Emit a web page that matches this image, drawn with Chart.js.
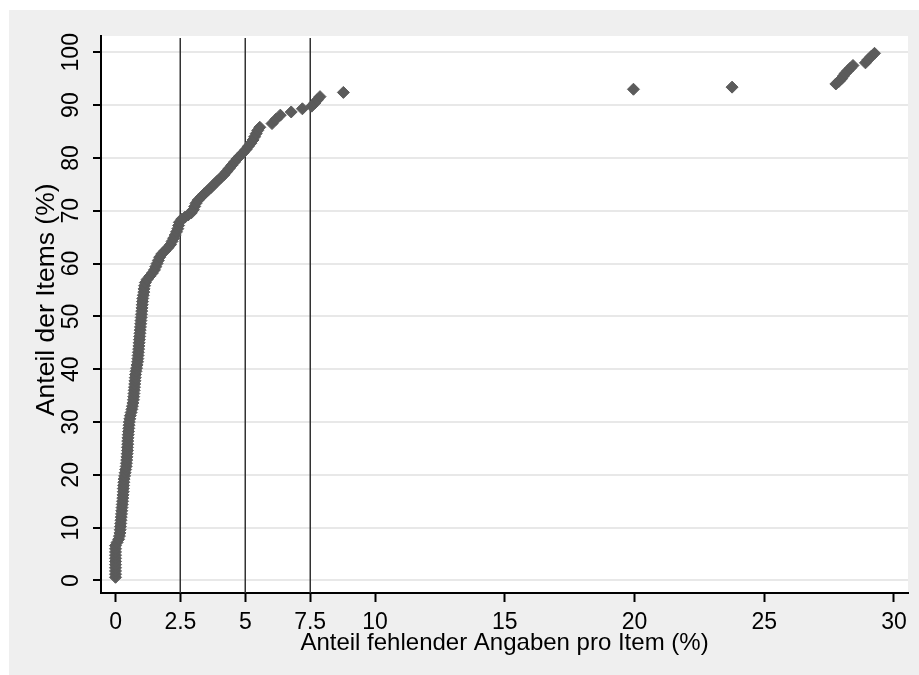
<!DOCTYPE html>
<html>
<head>
<meta charset="utf-8">
<script src="https://cdn.jsdelivr.net/npm/chart.js@4.4.1/dist/chart.umd.min.js"></script>
<style>
  html, body { margin: 0; padding: 0; background: #fff; }
  #wrap { position: relative; width: 919px; height: 675px; }
</style>
</head>
<body>
<div id="wrap"><canvas id="chart" width="919" height="675"></canvas></div>
<script>
// Anteil fehlender Angaben pro Item (%) -- x
const missingPct = [
  0, 0, 0, 0, 0, 0, 0, 0, 0, 0, 0,
  0.06, 0.12, 0.15, 0.17, 0.18, 0.19, 0.20, 0.21, 0.22, 0.23,
  0.24, 0.25, 0.26, 0.27, 0.28, 0.29, 0.30, 0.30, 0.31, 0.32,
  0.33, 0.35, 0.37, 0.39, 0.41, 0.42, 0.43, 0.44, 0.45, 0.46,
  0.46, 0.47, 0.47, 0.48, 0.49, 0.50, 0.51, 0.52, 0.53, 0.55,
  0.57, 0.60, 0.63, 0.65, 0.67, 0.69, 0.70, 0.71, 0.72, 0.73,
  0.74, 0.75, 0.76, 0.77, 0.79, 0.81, 0.83, 0.85, 0.86, 0.87,
  0.88, 0.89, 0.90, 0.91, 0.92, 0.93, 0.94, 0.95, 0.96, 0.97,
  0.98, 0.99, 1.00, 1.01, 1.02, 1.03, 1.04, 1.05, 1.07, 1.09,
  1.10, 1.12, 1.15, 1.22, 1.32, 1.42, 1.50, 1.55, 1.60, 1.65,
  1.70, 1.78, 1.90, 2.02, 2.12, 2.18, 2.24, 2.30, 2.35, 2.40,
  2.43, 2.46, 2.55, 2.68, 2.80, 2.92, 3.00, 3.05, 3.10, 3.18,
  3.30, 3.42, 3.55, 3.68, 3.80, 3.92, 4.05, 4.18, 4.28, 4.38,
  4.48, 4.58, 4.68, 4.80, 4.92, 5.03, 5.12, 5.22, 5.30, 5.36,
  5.42, 5.48, 5.56, 6.03, 6.18, 6.35, 6.77, 7.20, 7.56, 7.68,
  7.78, 7.88, 8.78, 19.96, 23.76, 27.76, 27.88, 27.98, 28.05, 28.12,
  28.22, 28.32, 28.42, 28.90, 29.00, 29.12, 29.25
];
// Anteil der Items (%) -- y
const itemsPct = [
  0.6, 1.2, 1.8, 2.4, 3.0, 3.6, 4.2, 4.8, 5.4, 6.0, 6.6,
  7.2, 7.8, 8.4, 9.0, 9.6, 10.2, 10.8, 11.4, 12.0, 12.6,
  13.2, 13.8, 14.4, 15.0, 15.6, 16.2, 16.8, 17.4, 18.0, 18.6,
  19.2, 19.8, 20.4, 21.0, 21.6, 22.2, 22.8, 23.4, 24.0, 24.6,
  25.2, 25.8, 26.4, 27.0, 27.6, 28.2, 28.8, 29.4, 30.0, 30.6,
  31.2, 31.8, 32.4, 33.0, 33.6, 34.2, 34.8, 35.4, 36.0, 36.6,
  37.2, 37.8, 38.4, 39.0, 39.6, 40.2, 40.8, 41.4, 42.0, 42.6,
  43.2, 43.8, 44.4, 45.0, 45.6, 46.2, 46.8, 47.4, 48.0, 48.6,
  49.2, 49.8, 50.4, 51.0, 51.6, 52.2, 52.8, 53.4, 54.0, 54.6,
  55.2, 55.8, 56.4, 57.0, 57.6, 58.2, 58.8, 59.4, 60.0, 60.6,
  61.2, 61.8, 62.4, 63.0, 63.6, 64.2, 64.8, 65.4, 66.0, 66.6,
  67.2, 67.8, 68.4, 68.8, 69.2, 69.6, 70.2, 70.8, 71.4, 72.0,
  72.6, 73.2, 73.8, 74.4, 75.0, 75.6, 76.2, 76.8, 77.4, 78.0,
  78.6, 79.2, 79.8, 80.4, 81.0, 81.6, 82.2, 82.8, 83.4, 84.0,
  84.6, 85.2, 85.8, 86.5, 87.3, 88.1, 88.7, 89.3, 89.8, 90.4,
  91.0, 91.6, 92.4, 93.0, 93.4, 94.0, 94.5, 95.0, 95.5, 96.0,
  96.5, 97.0, 97.5, 98.0, 98.6, 99.2, 99.8
];
const refLines = [2.5, 5, 7.5];
const xTicks = [0, 2.5, 5, 7.5, 10, 15, 20, 25, 30];
const yTicks = [0, 10, 20, 30, 40, 50, 60, 70, 80, 90, 100];

const font = "'Liberation Sans', Arial, Helvetica, sans-serif";

// grauer Rahmen + weisse Plotflaeche
const bgPlugin = {
  id: 'bg',
  beforeDraw(chart) {
    const { ctx, chartArea: a } = chart;
    ctx.save();
    ctx.fillStyle = '#ffffff';
    ctx.fillRect(0, 0, chart.width, chart.height);
    ctx.fillStyle = '#efefef';
    ctx.fillRect(9, 10, chart.width - 9, chart.height - 10);
    ctx.fillStyle = '#ffffff';
    ctx.fillRect(a.left, a.top, a.right - a.left, a.bottom - a.top);
    ctx.restore();
  }
};

// senkrechte Linien bei 2.5, 5, 7.5
const xlinePlugin = {
  id: 'xlines',
  beforeDatasetsDraw(chart) {
    const { ctx, chartArea: a, scales: { x } } = chart;
    ctx.save();
    ctx.strokeStyle = '#333333';
    ctx.lineWidth = 1.5;
    refLines.forEach(v => {
      const px = Math.round(x.getPixelForValue(v)) + 0.25;
      ctx.beginPath();
      ctx.moveTo(px, a.top + 2);
      ctx.lineTo(px, a.bottom);
      ctx.stroke();
    });
    ctx.restore();
  }
};

const points = missingPct.map((v, i) => ({ x: v, y: itemsPct[i] }));

new Chart(document.getElementById('chart'), {
  type: 'scatter',
  data: {
    datasets: [{
      data: points,
      pointStyle: 'rectRot',
      pointRadius: 6,
      backgroundColor: '#5b5b5b',
      borderColor: '#5b5b5b',
      borderWidth: 1
    }]
  },
  options: {
    responsive: false,
    animation: false,
    devicePixelRatio: 1,
    layout: { padding: { left: 0, top: 36, right: 11, bottom: 0 } },
    plugins: {
      legend: { display: false },
      tooltip: { enabled: false }
    },
    scales: {
      x: {
        type: 'linear',
        min: -0.56,
        max: 30.54,
        afterBuildTicks: s => { s.ticks = xTicks.map(v => ({ value: v })); },
        afterFit: s => { s.height = 82; },
        ticks: {
          font: { family: font, size: 23 },
          color: '#000',
          padding: 7,
          maxRotation: 0,
          callback: v => String(v)
        },
        grid: {
          drawOnChartArea: false,
          drawTicks: true,
          tickLength: 9,
          tickColor: '#000',
          tickWidth: 2
        },
        border: { color: '#000', width: 2 },
        title: {
          display: true,
          text: 'Anteil fehlender Angaben pro Item (%)',
          font: { family: font, size: 24 },
          color: '#000',
          padding: { top: 0, bottom: 17 }
        }
      },
      y: {
        type: 'linear',
        min: -2.37,
        max: 103.08,
        afterBuildTicks: s => { s.ticks = yTicks.map(v => ({ value: v })); },
        afterFit: s => { s.width = 101; },
        ticks: {
          font: { family: font, size: 23 },
          color: '#000',
          minRotation: 90,
          maxRotation: 90,
          crossAlign: 'center',
          padding: 2,
          callback: v => String(v)
        },
        grid: {
          color: '#e8e8e8',
          lineWidth: 2,
          drawTicks: true,
          tickLength: 8,
          tickColor: '#000',
          tickWidth: 2
        },
        border: { color: '#000', width: 2 },
        title: {
          display: true,
          // fuehrende Leerzeichen schieben den Titel etwas nach oben
          text: '    Anteil der Items (%)',
          font: { family: font, size: 26.5 },
          color: '#000',
          padding: { top: 31, bottom: 0 }
        }
      }
    }
  },
  plugins: [bgPlugin, xlinePlugin]
});
</script>
</body>
</html>
